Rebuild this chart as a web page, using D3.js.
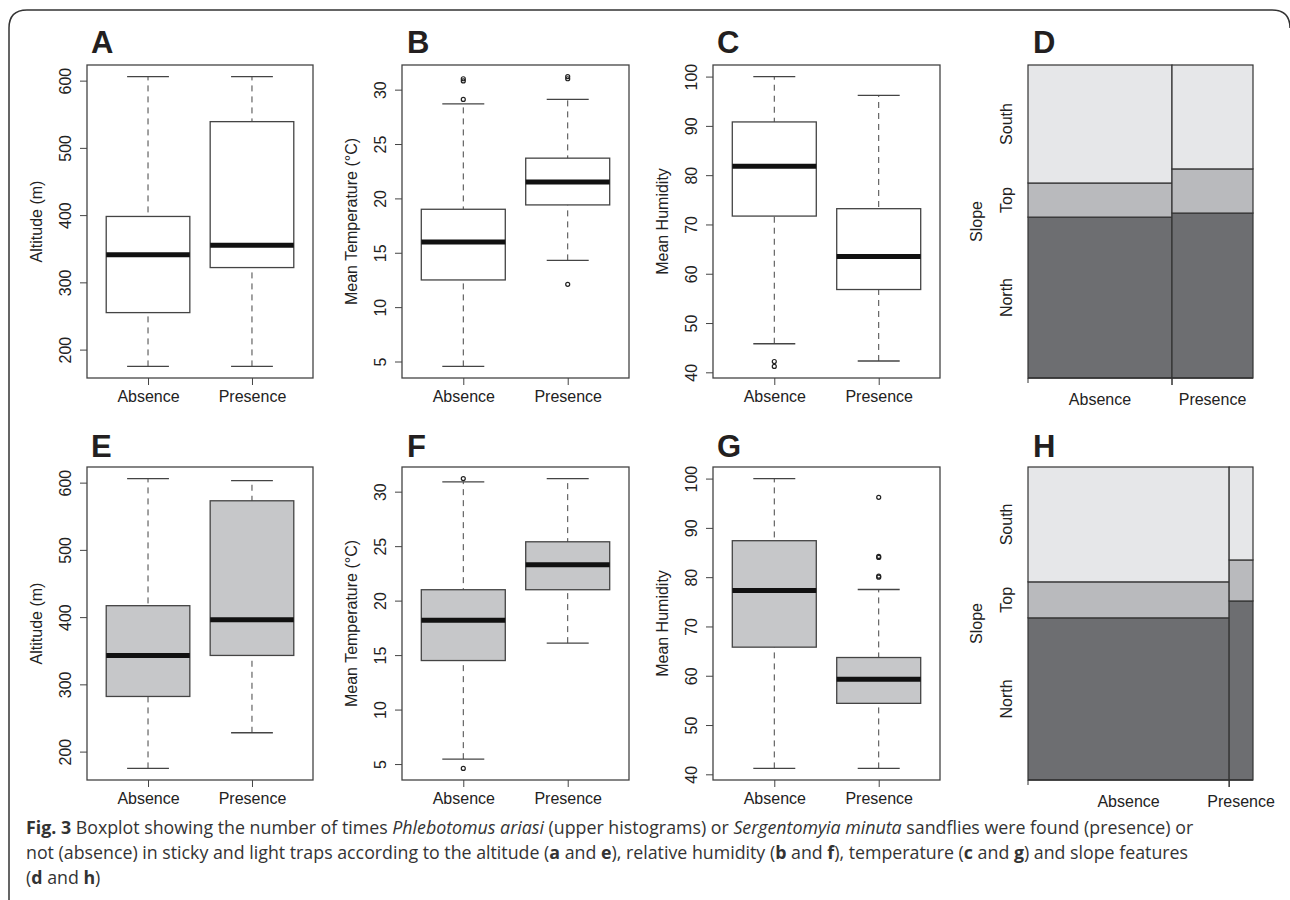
<!DOCTYPE html>
<html>
<head>
<meta charset="utf-8">
<script src="https://cdn.jsdelivr.net/npm/d3@7"></script>
<style>
  body { margin: 0; background: #fff; }
  svg { display: block; }
  .tick text { font-family: "Liberation Sans", Arial, sans-serif; }
</style>
</head>
<body>
<svg id="fig" width="1290" height="900"></svg>
<script>
// ---- data ----
var groups = ['Absence', 'Presence'];

// box stats: [low whisker, Q1, median, Q3, high whisker]
var altitudeP = [[175, 255, 341, 398, 606], [175, 322, 355, 539, 606]];
var tempP     = [[4.55, 12.5, 16.0, 19.0, 28.7], [14.3, 19.4, 21.5, 23.7, 29.1]];
var tempPOut  = [[29.1, 30.8, 31.0], [12.1, 31.0, 31.2]];
var humidP    = [[45.8, 71.7, 81.8, 90.8, 100], [42.3, 56.8, 63.5, 73.2, 96.2]];
var humidPOut = [[42.2, 41.2], []];

var altitudeS = [[175, 282, 343, 417, 606], [228, 343, 396, 573, 603]];
var tempS     = [[5.45, 14.5, 18.2, 21.0, 30.9], [16.1, 21.0, 23.3, 25.4, 31.2]];
var tempSOut  = [[4.6, 31.2], []];
var humidS    = [[41.2, 65.8, 77.3, 87.4, 100], [41.2, 54.4, 59.3, 63.7, 77.5]];
var humidSOut = [[], [96.2, 84.2, 84.0, 80.2, 80.0]];

var altTicks = [200, 300, 400, 500, 600];
var tempTicks = [5, 10, 15, 20, 25, 30];
var humidTicks = [40, 50, 60, 70, 80, 90, 100];

// mosaic: column width share, then north/top/south shares
var slopeLevels = ['North', 'Top', 'South'];
var slopeColours = ['#6d6e71', '#b9babd', '#e6e7e9'];
var slopeWidthP = [0.64, 0.36];
var slopeP = [[0.514, 0.109, 0.377], [0.527, 0.141, 0.332]];
var slopeWidthS = [0.894, 0.106];
var slopeS = [[0.518, 0.115, 0.367], [0.572, 0.131, 0.297]];

var svg = d3.select('#fig');
var FONT = '"Liberation Sans", Arial, sans-serif';
var LINE = '#444';

// frame
svg.append('path')
  .attr('d', 'M9,900 L9,28 Q9,10 27,10 L1272,10 Q1290,10 1290,28')
  .attr('fill', 'none').attr('stroke', '#333').attr('stroke-width', 1.5);

function letter(t, x, y) {
  svg.append('text').attr('x', x).attr('y', y).text(t)
    .attr('font-family', FONT).attr('font-weight', 'bold')
    .attr('font-size', 31).attr('fill', '#231f20');
}

function boxPanel(o) {
  var g = svg.append('g');
  var all = [];
  o.stats.forEach(function (s) { all = all.concat(s); });
  o.outs.forEach(function (s) { all = all.concat(s); });
  var lo = d3.min(all), hi = d3.max(all), pad = (hi - lo) * 0.04;
  var y = d3.scaleLinear().domain([lo - pad, hi + pad]).range([o.y1, o.y0]);
  var w = o.x1 - o.x0;
  var x = d3.scalePoint().domain(groups).range([o.x0 + w * 0.27, o.x1 - w * 0.27]);
  var bw = w * 0.37;

  o.stats.forEach(function (s, i) {
    var cx = x(groups[i]);
    g.append('line').attr('x1', cx).attr('x2', cx).attr('y1', y(s[0])).attr('y2', y(s[4]))
      .attr('stroke', LINE).attr('stroke-dasharray', '6,5');
    [s[0], s[4]].forEach(function (v) {
      g.append('line').attr('x1', cx - bw / 4).attr('x2', cx + bw / 4)
        .attr('y1', y(v)).attr('y2', y(v)).attr('stroke', LINE).attr('stroke-width', 1.3);
    });
    g.append('rect').attr('x', cx - bw / 2).attr('width', bw)
      .attr('y', y(s[3])).attr('height', y(s[1]) - y(s[3]))
      .attr('fill', o.fill).attr('stroke', LINE).attr('stroke-width', 1.3);
    g.append('line').attr('x1', cx - bw / 2).attr('x2', cx + bw / 2)
      .attr('y1', y(s[2])).attr('y2', y(s[2])).attr('stroke', '#111').attr('stroke-width', 5);
    o.outs[i].forEach(function (v) {
      g.append('circle').attr('cx', cx).attr('cy', y(v)).attr('r', 2)
        .attr('fill', 'none').attr('stroke', '#222').attr('stroke-width', 1.2);
    });
  });

  g.append('rect').attr('x', o.x0).attr('y', o.y0).attr('width', w).attr('height', o.y1 - o.y0)
    .attr('fill', 'none').attr('stroke', LINE).attr('stroke-width', 1.3);

  var ya = g.append('g').attr('transform', 'translate(' + o.x0 + ',0)')
    .call(d3.axisLeft(y).tickValues(o.ticks).tickSize(7));
  ya.select('.domain').remove();
  ya.selectAll('line').attr('stroke', LINE);
  ya.selectAll('.tick text').attr('font-size', 16).attr('fill', '#222')
    .attr('text-anchor', 'middle').attr('x', 0).attr('y', 0).attr('dy', 0)
    .attr('transform', 'translate(-16,0) rotate(-90)');

  var xa = g.append('g').attr('transform', 'translate(0,' + o.y1 + ')')
    .call(d3.axisBottom(x).tickSize(7).tickPadding(6));
  xa.select('.domain').remove();
  xa.selectAll('line').attr('stroke', LINE);
  xa.selectAll('text').attr('font-size', 16).attr('fill', '#222');

  g.append('text').attr('transform', 'translate(' + (o.x0 - 45) + ',' + ((o.y0 + o.y1) / 2) + ') rotate(-90)')
    .attr('text-anchor', 'middle').attr('font-family', FONT).attr('font-size', 16).attr('fill', '#222')
    .text(o.title);
}

function mosaicPanel(o) {
  var g = svg.append('g');
  var xb = d3.scaleLinear().domain([0, 1]).range([o.x0, o.x1]);
  var y = d3.scaleLinear().domain([0, 1]).range([o.y1, o.y0]);
  var left = 0;
  o.widths.forEach(function (wd, i) {
    var base = 0;
    o.shares[i].forEach(function (sh, k) {
      g.append('rect').attr('x', xb(left)).attr('width', xb(left + wd) - xb(left))
        .attr('y', y(base + sh)).attr('height', y(base) - y(base + sh))
        .attr('fill', slopeColours[k]).attr('stroke', '#333').attr('stroke-width', 1.2);
      if (i === 0) {
        g.append('text').attr('transform', 'translate(' + (o.x0 - 16) + ',' + y(base + sh / 2) + ') rotate(-90)')
          .attr('text-anchor', 'middle').attr('font-family', FONT).attr('font-size', 16).attr('fill', '#222')
          .text(slopeLevels[k]);
      }
      base += sh;
    });
    g.append('text').attr('x', xb(left + wd / 2)).attr('y', o.y1 + 27)
      .attr('text-anchor', 'middle').attr('font-family', FONT).attr('font-size', 16).attr('fill', '#222')
      .text(groups[i]);
    left += wd;
  });
  g.append('line').attr('x1', o.x0).attr('x2', o.x1).attr('y1', o.y1).attr('y2', o.y1)
    .attr('stroke', '#333').attr('stroke-width', 1.5);
  [0, o.widths[0]].forEach(function (v, i) {
    g.append('line').attr('x1', xb(v)).attr('x2', xb(v)).attr('y1', o.y1).attr('y2', o.y1 + (i ? 7 : 5))
      .attr('stroke', '#333').attr('stroke-width', i ? 1.5 : 1);
  });
  g.append('text').attr('transform', 'translate(' + (o.x0 - 46) + ',' + ((o.y0 + o.y1) / 2) + ') rotate(-90)')
    .attr('text-anchor', 'middle').attr('font-family', FONT).attr('font-size', 16).attr('fill', '#222')
    .text('Slope');
}

var cols = [[87, 313], [402, 629], [713, 940], [1028, 1253]];
var rows = [[65, 378], [467, 780]];

boxPanel({ x0: cols[0][0], x1: cols[0][1], y0: rows[0][0], y1: rows[0][1], stats: altitudeP, outs: [[], []], ticks: altTicks, title: 'Altitude (m)', fill: '#fff' });
boxPanel({ x0: cols[1][0], x1: cols[1][1], y0: rows[0][0], y1: rows[0][1], stats: tempP, outs: tempPOut, ticks: tempTicks, title: 'Mean Temperature (°C)', fill: '#fff' });
boxPanel({ x0: cols[2][0], x1: cols[2][1], y0: rows[0][0], y1: rows[0][1], stats: humidP, outs: humidPOut, ticks: humidTicks, title: 'Mean Humidity', fill: '#fff' });
mosaicPanel({ x0: cols[3][0], x1: cols[3][1], y0: rows[0][0], y1: rows[0][1], widths: slopeWidthP, shares: slopeP });

boxPanel({ x0: cols[0][0], x1: cols[0][1], y0: rows[1][0], y1: rows[1][1], stats: altitudeS, outs: [[], []], ticks: altTicks, title: 'Altitude (m)', fill: '#c6c7c9' });
boxPanel({ x0: cols[1][0], x1: cols[1][1], y0: rows[1][0], y1: rows[1][1], stats: tempS, outs: tempSOut, ticks: tempTicks, title: 'Mean Temperature (°C)', fill: '#c6c7c9' });
boxPanel({ x0: cols[2][0], x1: cols[2][1], y0: rows[1][0], y1: rows[1][1], stats: humidS, outs: humidSOut, ticks: humidTicks, title: 'Mean Humidity', fill: '#c6c7c9' });
mosaicPanel({ x0: cols[3][0], x1: cols[3][1], y0: rows[1][0], y1: rows[1][1], widths: slopeWidthS, shares: slopeS });

letter('A', 91, 53); letter('B', 407, 53); letter('C', 717, 53); letter('D', 1033, 53);
letter('E', 91, 457); letter('F', 407, 457); letter('G', 717, 457); letter('H', 1033, 457);

// caption
var cap = svg.append('text').attr('font-family', '"Open Sans", sans-serif').attr('font-size', 17.8).attr('fill', '#333');
var lines = [
  [['b', 'Fig. 3'], ['', ' Boxplot showing the number of times '], ['i', 'Phlebotomus ariasi'], ['', ' (upper histograms) or '], ['i', 'Sergentomyia minuta'], ['', ' sandflies were found (presence) or']],
  [['', 'not (absence) in sticky and light traps according to the altitude ('], ['b', 'a'], ['', ' and '], ['b', 'e'], ['', '), relative humidity ('], ['b', 'b'], ['', ' and '], ['b', 'f'], ['', '), temperature ('], ['b', 'c'], ['', ' and '], ['b', 'g'], ['', ') and slope features']],
  [['', '('], ['b', 'd'], ['', ' and '], ['b', 'h'], ['', ')']]
];
lines.forEach(function (ln, i) {
  ln.forEach(function (p, j) {
    var t = cap.append('tspan').text(p[1]);
    if (j === 0) t.attr('x', 26).attr('y', 834 + i * 25);
    if (p[0] === 'b') t.attr('font-weight', 'bold');
    if (p[0] === 'i') t.attr('font-style', 'italic');
  });
});
</script>
</body>
</html>
